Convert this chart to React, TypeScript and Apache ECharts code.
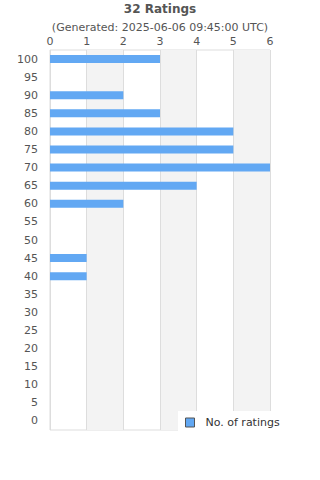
import React, { useEffect, useRef } from "react";
import * as echarts from "echarts";

const categories = ["0","5","10","15","20","25","30","35","40","45","50","55","60","65","70","75","80","85","90","95","100"];
const ratings = [0,0,0,0,0,0,0,0,1,1,0,0,2,4,6,5,5,3,2,0,3];
const xTicks = [0,1,2,3,4,5,6];
const titleText = "32 Ratings";
const subtitleText = "(Generated: 2025-06-06 09:45:00 UTC)";
const seriesName = "No. of ratings";

export default function App() {
  const ref = useRef<HTMLDivElement>(null);
  useEffect(() => {
    if (!ref.current) return;
    const chart = echarts.init(ref.current, null, { renderer: "svg" });
    const font = "DejaVu Sans";
    chart.setOption({
      animation: false,
      textStyle: { fontFamily: font },
      title: {
        text: titleText,
        subtext: subtitleText,
        left: "center",
        top: 0,
        padding: [3, 5, 5, 5],
        itemGap: 7,
        textStyle: { fontFamily: font, fontSize: 12, fontWeight: "bold", color: "#555" },
        subtextStyle: { fontFamily: font, fontSize: 11, color: "#555" },
      },
      legend: {
        data: [seriesName],
        left: 178,
        top: 411,
        padding: [6, 40, 6, 7],
        backgroundColor: "#fff",
        icon: "rect",
        itemWidth: 9,
        itemHeight: 9,
        itemGap: 10,
        itemStyle: { borderColor: "#555", borderWidth: 1 },
        textStyle: { fontFamily: font, fontSize: 11, color: "#333", padding: [0, 0, 0, 6] },
      },
      grid: { left: 50, right: 50, top: 50, bottom: 50, show: true, borderColor: "#ddd", borderWidth: 1 },
      xAxis: {
        type: "value",
        position: "top",
        min: xTicks[0],
        max: xTicks[xTicks.length - 1],
        interval: 1,
        axisLine: { show: false },
        axisTick: { show: false },
        axisLabel: { fontFamily: font, fontSize: 11, color: "#555", margin: 3 },
        splitLine: { show: true, lineStyle: { color: "#ddd" } },
        splitArea: { show: true, areaStyle: { color: ["rgba(255,255,255,0)", "#f3f3f3"] } },
      },
      yAxis: {
        type: "category",
        data: categories,
        axisLine: { show: false },
        axisTick: { show: false },
        axisLabel: { fontFamily: font, fontSize: 11, color: "#555", margin: 12 },
        splitLine: { show: false },
      },
      series: [
        {
          name: seriesName,
          type: "bar",
          data: ratings,
          barWidth: 8,
          itemStyle: { color: "#62a8f3" },
        },
      ],
    });
    return () => chart.dispose();
  }, []);
  return <div ref={ref} style={{ position: "absolute", left: 0, top: 0, width: 320, height: 480 }} />;
}
